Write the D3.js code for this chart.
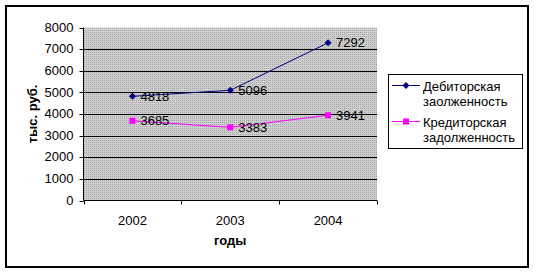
<!DOCTYPE html>
<html>
<head>
<meta charset="utf-8">
<script src="https://cdn.jsdelivr.net/npm/d3@7"></script>
<style>
  body { margin: 0; background: #fff; }
  svg { display: block; font-family: "Liberation Sans", Arial, sans-serif; }
</style>
</head>
<body>
<div id="chart"></div>
<script>
// data
const years = ["2002", "2003", "2004"];
const debit = [4818, 5096, 7292];
const credit = [3685, 3383, 3941];
const seriesNames = [["Дебиторская", "заолженность"], ["Кредиторская", "задолженность"]];
const yTicks = [0, 1000, 2000, 3000, 4000, 5000, 6000, 7000, 8000];

const W = 534, H = 274;
const FS = 13;
const plot = {left: 83.5, right: 377, top: 27.5, bottom: 200.5};

const svg = d3.select("#chart").append("svg")
    .attr("width", W).attr("height", H);

// dotted grey fill of the plot area
const defs = svg.append("defs");
const pat = defs.append("pattern").attr("id", "dots")
    .attr("width", 2).attr("height", 2).attr("patternUnits", "userSpaceOnUse");
pat.append("rect").attr("width", 2).attr("height", 2).attr("fill", "#cfcfcf");
pat.append("rect").attr("width", 1).attr("height", 1).attr("fill", "#a4a4a4");

// outer frame
svg.append("rect")
    .attr("x", 6).attr("y", 6).attr("width", 522).attr("height", 261)
    .attr("fill", "#fff").attr("stroke", "#000").attr("stroke-width", 2);

const x = d3.scaleBand().domain(years).range([plot.left, plot.right]);
const y = d3.scaleLinear().domain([0, 8000]).range([plot.bottom, plot.top]);

svg.append("rect")
    .attr("x", plot.left).attr("y", plot.top)
    .attr("width", plot.right - plot.left).attr("height", plot.bottom - plot.top)
    .attr("fill", "url(#dots)");

// gridlines
svg.append("g").selectAll("line")
    .data(yTicks.filter(v => v > 0 && v < 8000))
    .join("line")
    .attr("x1", plot.left).attr("x2", plot.right)
    .attr("y1", d => Math.round(y(d)) + 0.5).attr("y2", d => Math.round(y(d)) + 0.5)
    .attr("stroke", "#000").attr("stroke-width", 1);

// axes
const yAxis = svg.append("g")
    .attr("transform", `translate(${plot.left},0)`)
    .call(d3.axisLeft(y).tickValues(yTicks).tickFormat(d3.format("d"))
        .tickSize(4).tickPadding(6).tickSizeOuter(0).offset(0));
yAxis.selectAll(".tick line").attr("transform", d => `translate(0,${Math.round(y(d)) + 0.5 - y(d)})`);

const xAxis = svg.append("g")
    .attr("transform", `translate(0,${plot.bottom})`)
    .call(d3.axisBottom(x).tickSize(0).tickPadding(15).tickSizeOuter(0).offset(0));
// category boundary ticks
xAxis.selectAll(".sep")
    .data(years.map(d => x(d)).concat([plot.right]))
    .join("line").attr("class", "sep")
    .attr("x1", d => Math.round(d) + 0.5).attr("x2", d => Math.round(d) + 0.5)
    .attr("y1", 0).attr("y2", 4).attr("stroke", "#000");

[yAxis, xAxis].forEach(a => {
    a.select(".domain").attr("stroke", "#000");
    a.selectAll("text").attr("font-size", FS).attr("fill", "#000")
        .attr("font-family", "'Liberation Sans', Arial, sans-serif");
});

// axis titles
svg.append("text")
    .attr("x", (plot.left + plot.right) / 2).attr("y", 245)
    .attr("text-anchor", "middle").attr("font-size", FS).attr("font-weight", "bold")
    .text("годы");
svg.append("text")
    .attr("transform", `translate(37,${(plot.top + plot.bottom) / 2}) rotate(-90)`)
    .attr("text-anchor", "middle").attr("font-size", FS).attr("font-weight", "bold")
    .text("тыс. руб.");

// series
const cx = d => x(d) + x.bandwidth() / 2;
const series = [
    {values: debit, color: "#000080", marker: "diamond"},
    {values: credit, color: "#ff00ff", marker: "square"}
];
const line = d3.line().x(d => cx(d.year)).y(d => y(d.v));

function drawMarker(g, type, color) {
    if (type === "diamond") {
        g.append("path").attr("d", "M0,-3.5L3.5,0L0,3.5L-3.5,0Z").attr("fill", color);
    } else {
        g.append("rect").attr("x", -3).attr("y", -3).attr("width", 6).attr("height", 6).attr("fill", color);
    }
}

series.forEach(s => {
    const pts = years.map((yr, i) => ({year: yr, v: s.values[i]}));
    svg.append("path").datum(pts).attr("d", line)
        .attr("fill", "none").attr("stroke", s.color).attr("stroke-width", 1);
    pts.forEach(p => {
        const g = svg.append("g").attr("transform", `translate(${cx(p.year)},${y(p.v)})`);
        drawMarker(g, s.marker, s.color);
        g.append("text").attr("x", 8).attr("dy", "0.35em")
            .attr("font-size", FS).attr("fill", "#000").text(p.v);
    });
});

// legend
const leg = svg.append("g");
leg.append("rect")
    .attr("x", 388.5).attr("y", 74.5).attr("width", 134).attr("height", 74)
    .attr("fill", "#fff").attr("stroke", "#000");
series.forEach((s, i) => {
    const ly = 85.5 + i * 36;
    leg.append("line").attr("x1", 392).attr("x2", 420).attr("y1", ly).attr("y2", ly)
        .attr("stroke", s.color);
    const g = leg.append("g").attr("transform", `translate(406,${ly})`);
    drawMarker(g, s.marker, s.color);
    seriesNames[i].forEach((t, j) => {
        leg.append("text").attr("x", 423).attr("y", ly + 5 + j * 15)
            .attr("font-size", FS).attr("fill", "#000").text(t);
    });
});
</script>
</body>
</html>
